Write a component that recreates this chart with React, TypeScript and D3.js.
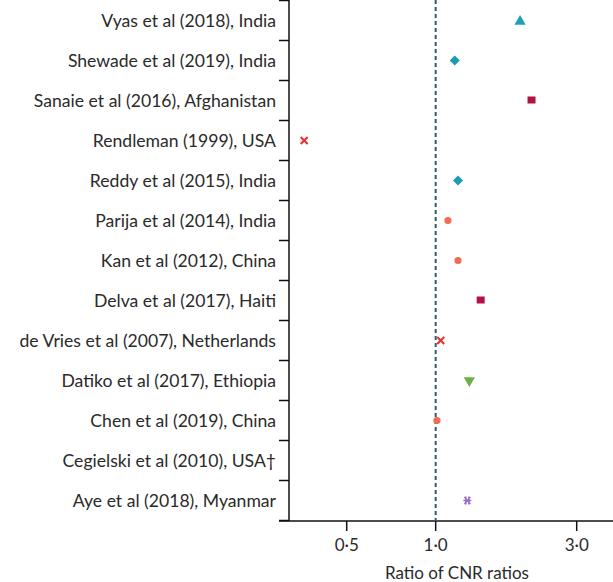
import React from "react";
import * as d3 from "d3";

const studies = [
  "Vyas et al (2018), India",
  "Shewade et al (2019), India",
  "Sanaie et al (2016), Afghanistan",
  "Rendleman (1999), USA",
  "Reddy et al (2015), India",
  "Parija et al (2014), India",
  "Kan et al (2012), China",
  "Delva et al (2017), Haiti",
  "de Vries et al (2007), Netherlands",
  "Datiko et al (2017), Ethiopia",
  "Chen et al (2019), China",
  "Cegielski et al (2010), USA†",
  "Aye et al (2018), Myanmar",
];
const ratios: (number | null)[] = [1.93, 1.16, 2.11, 0.359, 1.19, 1.1, 1.19, 1.42, 1.04, 1.3, 1.01, null, 1.28];
const markers = ["triangle", "diamond", "square", "cross", "diamond", "circle", "circle", "square", "cross", "triangleDown", "circle", "none", "asterisk"];
const tickValues = [0.5, 1.0, 3.0];
const tickLabels = ["0·5", "1·0", "3·0"];

const colors: Record<string, string> = {
  triangle: "#1f9fb8",
  diamond: "#1c9cb3",
  square: "#b31342",
  cross: "#e8302c",
  circle: "#f26b52",
  triangleDown: "#6bb145",
  asterisk: "#9a72bf",
};

function Marker({ kind, x, y }: { kind: string; x: number; y: number }) {
  const c = colors[kind];
  switch (kind) {
    case "triangle":
      return <path d={d3.symbol(d3.symbolTriangle, 55)()!} transform={`translate(${x},${y + 1})`} fill={c} />;
    case "triangleDown":
      return <path d={d3.symbol(d3.symbolTriangle, 55)()!} transform={`translate(${x},${y}) rotate(180)`} fill={c} />;
    case "diamond":
      return <path d={`M0,-5L5,0L0,5L-5,0Z`} transform={`translate(${x},${y})`} fill={c} />;
    case "square":
      return <rect x={x - 4} y={y - 4} width={8} height={7} fill={c} />;
    case "circle":
      return <circle cx={x} cy={y} r={3.6} fill={c} />;
    case "cross":
      return (
        <g stroke={c} strokeWidth={2} transform={`translate(${x},${y})`}>
          <line x1={-3.5} y1={-3.5} x2={3.5} y2={3.5} />
          <line x1={-3.5} y1={3.5} x2={3.5} y2={-3.5} />
        </g>
      );
    case "asterisk":
      return (
        <g stroke={c} strokeWidth={1.5} transform={`translate(${x},${y})`}>
          <line x1={-4} y1={0} x2={4} y2={0} />
          <line x1={-3} y1={-3.5} x2={3} y2={3.5} />
          <line x1={-3} y1={3.5} x2={3} y2={-3.5} />
          <line x1={-1.5} y1={-4} x2={-1.5} y2={4} />
          <line x1={1.5} y1={-4} x2={1.5} y2={4} />
        </g>
      );
    default:
      return null;
  }
}

export default function App() {
  const W = 613, H = 582;
  const axisX = 289;
  const axisY = 521;
  const x = d3.scaleLog().domain([0.5, 3]).range([346.7, 576.7]);
  const y = d3.scaleBand<string>().domain(studies).range([0.5, 520.5]);
  const bounds = d3.range(studies.length + 1).map((i) => 0.5 + i * y.step());
  const font = "Lato, 'Open Sans', sans-serif";

  return (
    <svg width={W} height={H} style={{ position: "absolute", left: 0, top: 0, background: "#fff" }}>
      {studies.map((s) => (
        <text key={s} x={276} y={y(s)! + y.bandwidth() / 2} dy="0.35em" textAnchor="end" fontFamily={font} fontSize={17.6} fill="#2a2a2a">
          {s}
        </text>
      ))}
      <line x1={axisX} x2={axisX} y1={0} y2={axisY} stroke="#111" strokeWidth={1.5} />
      {bounds.map((b, i) => (
        <line key={i} x1={279} x2={axisX} y1={b} y2={b} stroke="#111" strokeWidth={1.5} />
      ))}
      <line x1={axisX - 10} x2={W} y1={axisY} y2={axisY} stroke="#111" strokeWidth={1.5} />
      {tickValues.map((t, i) => (
        <g key={t}>
          <line x1={x(t)} x2={x(t)} y1={axisY} y2={axisY + 10} stroke="#111" strokeWidth={1.5} />
          <text x={x(t)} y={axisY + 30} textAnchor="middle" fontFamily={font} fontSize={17} fill="#2a2a2a">
            {tickLabels[i]}
          </text>
        </g>
      ))}
      <text x={457} y={579} textAnchor="middle" fontFamily={font} fontSize={17} fill="#2a2a2a">
        Ratio of CNR ratios
      </text>
      <line x1={x(1)} x2={x(1)} y1={0} y2={axisY} stroke="#2c5d69" strokeWidth={2} strokeDasharray="4,3" />
      {studies.map((s, i) =>
        ratios[i] == null ? null : (
          <Marker key={s} kind={markers[i]} x={x(ratios[i] as number)} y={y(s)! + y.bandwidth() / 2} />
        )
      )}
    </svg>
  );
}
